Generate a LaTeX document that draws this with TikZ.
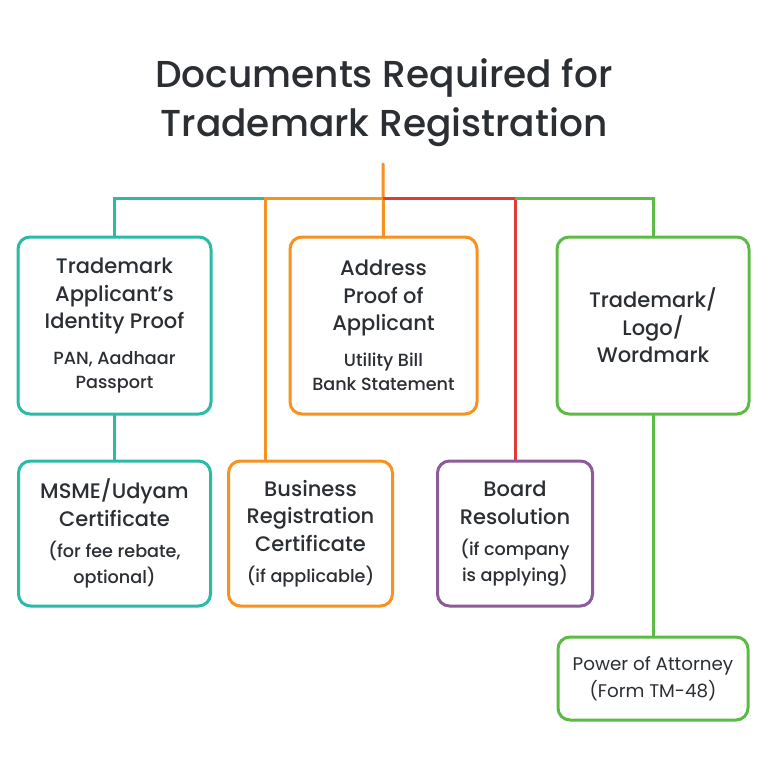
\documentclass[tikz,border=0pt]{standalone}
\usepackage{fontspec}
\setmainfont{Poppins}
\newfontfamily\mediumfont{Poppins Medium}
\usepackage{tikz}
\usetikzlibrary{positioning,backgrounds}
\usepackage{xcolor}
\definecolor{inkgray}{HTML}{2B2F33}
\definecolor{tealline}{HTML}{2BB9A8}
\definecolor{orangeline}{HTML}{F7911F}
\definecolor{redline}{HTML}{DD3A3A}
\definecolor{greenline}{HTML}{5CBB44}
\definecolor{purpleline}{HTML}{8C5B99}
\newcommand{\docSub}[1]{{\fontsize{17.6}{24}\selectfont #1}}

\begin{document}
\begin{tikzpicture}[
    x=1pt, y=-1pt,
    every node/.style={text=inkgray},
    docBox/.style={rectangle, rounded corners=12pt, line width=3pt, fill=white, align=center, inner sep=0pt, outer sep=0pt, font=\mediumfont\fontsize{21}{27.5}\selectfont},
    tealBox/.style={docBox, draw=tealline},
    orangeBox/.style={docBox, draw=orangeline},
    greenBox/.style={docBox, draw=greenline},
    purpleBox/.style={docBox, draw=purpleline},
    linkEdge/.style={line width=3pt, line join=miter}
]
    \useasboundingbox (0,0) rectangle (768,781);
    \node [font=\mediumfont\fontsize{37.5}{49}\selectfont, align=center] (title) at (384,103) {Documents Required for\\Trademark Registration};

    \node [tealBox, minimum width=193pt, minimum height=177pt] (identity) at (114.5,325.5) {Trademark\\Applicant’s\\Identity Proof\\[8pt]\docSub{PAN, Aadhaar}\\[-3.5pt]\docSub{Passport}};
    \node [orangeBox, minimum width=187pt, minimum height=177pt, right=79pt of identity] (address) {Address\\Proof of\\Applicant\\[8pt]\docSub{Utility Bill}\\[-3.5pt]\docSub{Bank Statement}};
    \node [greenBox, minimum width=192pt, minimum height=177pt, right=80pt of address] (mark) {Trademark/\\Logo/\\Wordmark};

    \node [tealBox, minimum width=192pt, minimum height=145pt, below=47pt of identity] (msme) {MSME/Udyam\\Certificate\\[4pt]\docSub{(for fee rebate,}\\[-2pt]\docSub{optional)}};
    \node [orangeBox, minimum width=164pt, minimum height=145pt, right=18pt of msme] (business) {Business\\Registration\\Certificate\\[4pt]\docSub{(if applicable)}};
    \node [purpleBox, minimum width=155pt, minimum height=145pt, right=45pt of business] (board) {Board\\Resolution\\[4pt]\docSub{(if company}\\[-2pt]\docSub{is applying)}};
    \node [greenBox, minimum width=190pt, minimum height=83pt, below=223pt of mark, font=\fontsize{18.3}{27}\selectfont] (attorney) {Power of Attorney\\(Form TM-48)};

    \coordinate (stem) at (383,164);
    \coordinate (hub) at (383,198);
    \coordinate (forkL) at (265,198);
    \coordinate (forkR) at (515,198);

    \begin{scope}[on background layer]
        \fill [white] (0,0) rectangle (768,781);
        \draw [linkEdge, tealline] (identity.north) |- (forkL);
        \draw [linkEdge, tealline] (identity) -- (msme);
        \draw [linkEdge, orangeline] (hub) -- (forkL) -- (forkL |- business.north);
        \draw [linkEdge, orangeline, line cap=round] (stem) -- (address.north);
        \draw [linkEdge, redline] (hub) -- (forkR) -- (forkR |- board.north);
        \draw [linkEdge, greenline] (forkR) -| (mark.north);
        \draw [linkEdge, greenline] (mark) -- (attorney);
    \end{scope}
\end{tikzpicture}
\end{document}
